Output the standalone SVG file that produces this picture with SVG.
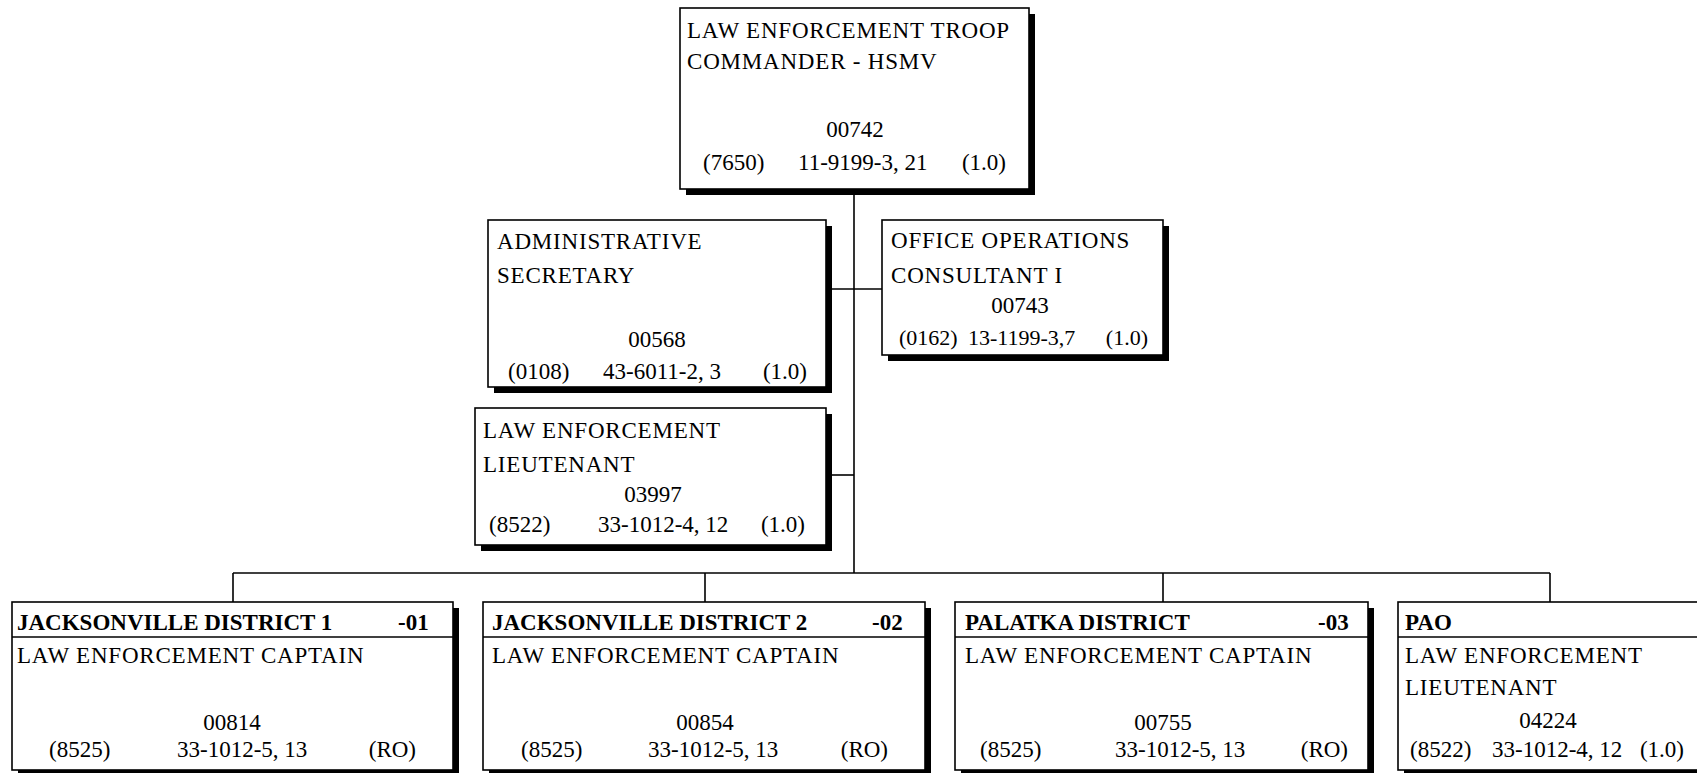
<svg xmlns="http://www.w3.org/2000/svg" width="1697" height="773" viewBox="0 0 1697 773">
<style>
.sh{fill:#000}
.bx{fill:#fff;stroke:#000;stroke-width:1.6}
.ln{stroke:#000;stroke-width:1.6;fill:none}
text{font-family:"Liberation Serif","Times New Roman",serif;font-size:23px;letter-spacing:0.8px;fill:#000}
.b{font-weight:bold;letter-spacing:0}
.c{text-anchor:middle}
.e{text-anchor:end}
.n{letter-spacing:0}
.s{font-size:22px;letter-spacing:0}
</style>
<rect width="1697" height="773" fill="#fff"/>
<g id="connectors">
<path class="ln" d="M854 189V573"/>
<path class="ln" d="M826 289H882"/>
<path class="ln" d="M826 475H854"/>
<path class="ln" d="M233 573H1550"/>
<path class="ln" d="M233 573V602M705 573V602M1163 573V602M1550 573V602"/>
</g>
<g id="troop-commander">
<rect class="sh" x="686" y="14" width="349" height="181"/>
<rect class="bx" x="680" y="8" width="349" height="181"/>
<text x="687" y="38">LAW ENFORCEMENT TROOP</text>
<text x="687" y="69">COMMANDER - HSMV</text>
<text class="c n" x="855" y="137">00742</text>
<text class="n" x="703" y="170">(7650)</text>
<text class="n" x="798" y="170">11-9199-3, 21</text>
<text class="e n" x="1006" y="170">(1.0)</text>
</g>
<g id="admin-secretary">
<rect class="sh" x="494" y="226" width="338" height="167"/>
<rect class="bx" x="488" y="220" width="338" height="167"/>
<text x="497" y="249">ADMINISTRATIVE</text>
<text x="497" y="283">SECRETARY</text>
<text class="c n" x="657" y="347">00568</text>
<text class="n" x="508" y="379">(0108)</text>
<text class="n" x="603" y="379">43-6011-2, 3</text>
<text class="e n" x="807" y="379">(1.0)</text>
</g>
<g id="office-ops">
<rect class="sh" x="888" y="226" width="281" height="135"/>
<rect class="bx" x="882" y="220" width="281" height="135"/>
<text x="891" y="248">OFFICE OPERATIONS</text>
<text x="891" y="283">CONSULTANT I</text>
<text class="c n" x="1020" y="313">00743</text>
<text class="s" x="899" y="345">(0162)</text>
<text class="s" x="968" y="345">13-1199-3,7</text>
<text class="s e" x="1148" y="345">(1.0)</text>
</g>
<g id="le-lieutenant">
<rect class="sh" x="481" y="414" width="351" height="137"/>
<rect class="bx" x="475" y="408" width="351" height="137"/>
<text x="483" y="438">LAW ENFORCEMENT</text>
<text x="483" y="472">LIEUTENANT</text>
<text class="c n" x="653" y="502">03997</text>
<text class="n" x="489" y="532">(8522)</text>
<text class="n" x="598" y="532">33-1012-4, 12</text>
<text class="e n" x="805" y="532">(1.0)</text>
</g>
<g id="jax1">
<rect class="sh" x="18" y="608" width="441" height="168"/>
<rect class="bx" x="12" y="602" width="441" height="168"/>
<path class="ln" d="M12 637H453"/>
<text class="b" x="17" y="630">JACKSONVILLE DISTRICT 1</text>
<text class="b" x="398" y="630">-01</text>
<text x="17" y="663">LAW ENFORCEMENT CAPTAIN</text>
<text class="c n" x="232" y="730">00814</text>
<text class="n" x="49" y="757">(8525)</text>
<text class="n" x="177" y="757">33-1012-5, 13</text>
<text class="e n" x="416" y="757">(RO)</text>
</g>
<g id="jax2">
<rect class="sh" x="489" y="608" width="442" height="168"/>
<rect class="bx" x="483" y="602" width="442" height="168"/>
<path class="ln" d="M483 637H925"/>
<text class="b" x="492" y="630">JACKSONVILLE DISTRICT 2</text>
<text class="b" x="872" y="630">-02</text>
<text x="492" y="663">LAW ENFORCEMENT CAPTAIN</text>
<text class="c n" x="705" y="730">00854</text>
<text class="n" x="521" y="757">(8525)</text>
<text class="n" x="648" y="757">33-1012-5, 13</text>
<text class="e n" x="888" y="757">(RO)</text>
</g>
<g id="palatka">
<rect class="sh" x="961" y="608" width="413" height="168"/>
<rect class="bx" x="955" y="602" width="413" height="168"/>
<path class="ln" d="M955 637H1368"/>
<text class="b" x="965" y="630">PALATKA DISTRICT</text>
<text class="b" x="1318" y="630">-03</text>
<text x="965" y="663">LAW ENFORCEMENT CAPTAIN</text>
<text class="c n" x="1163" y="730">00755</text>
<text class="n" x="980" y="757">(8525)</text>
<text class="n" x="1115" y="757">33-1012-5, 13</text>
<text class="e n" x="1348" y="757">(RO)</text>
</g>
<g id="pao">
<rect class="sh" x="1404" y="608" width="310" height="168"/>
<rect class="bx" x="1398" y="602" width="310" height="168"/>
<path class="ln" d="M1398 637H1708"/>
<text class="b" x="1405" y="630">PAO</text>
<text x="1405" y="663">LAW ENFORCEMENT</text>
<text x="1405" y="695">LIEUTENANT</text>
<text class="c n" x="1548" y="728">04224</text>
<text class="n" x="1410" y="757">(8522)</text>
<text class="n" x="1492" y="757">33-1012-4, 12</text>
<text class="e n" x="1684" y="757">(1.0)</text>
</g>
</svg>
